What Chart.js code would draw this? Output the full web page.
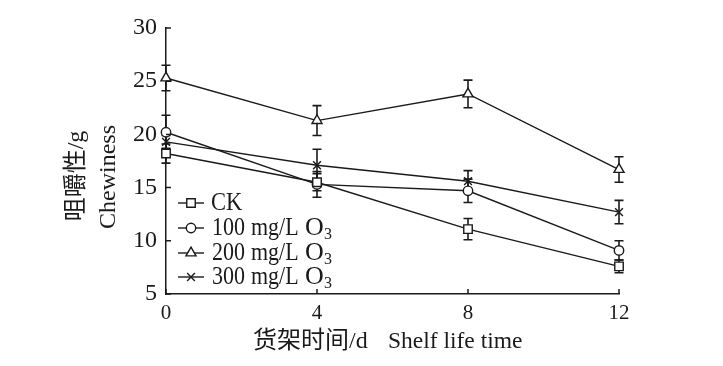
<!DOCTYPE html>
<html>
<head>
<meta charset="utf-8">
<script src="https://cdn.jsdelivr.net/npm/chart.js@4/dist/chart.umd.min.js"></script>
<style>
  html, body { margin: 0; padding: 0; background: #fff; }
  #wrap { width: 723px; height: 366px; }
</style>
</head>
<body>
<div id="wrap"><canvas id="chart" width="723" height="366"></canvas></div>
<script>
// shelf life days
const days = [0, 4, 8, 12];
// chewiness (g) and error bars
const ck = [18.2, 15.5, 11.1, 7.6];
const ckErr = [0.9, 0.8, 1.0, 0.6];
const o100 = [20.2, 15.3, 14.7, 9.1];
const o100Err = [1.6, 1.2, 1.1, 0.9];
const o200 = [25.3, 21.3, 23.8, 16.7];
const o200Err = [1.2, 1.4, 1.3, 1.2];
const o300 = [19.3, 17.1, 15.6, 12.7];
const o300Err = [0.6, 1.5, 1.0, 1.1];
const seriesNames = ['CK', '100', '200', '300'];
const xTicks = [0, 4, 8, 12];
const yTicks = [5, 10, 15, 20, 25, 30];

const ink = '#1a1a1a';
const serif = '"Liberation Serif", "Noto Sans CJK SC", serif';

function mk(vals) {
  return vals.map((v, i) => ({ x: days[i], y: v }));
}

const styles = ['rect', 'circle', 'triangle', 'crossRot'];
const radii = [6, 4.7, 5.8, 5.5];
const errs = [ckErr, o100Err, o200Err, o300Err];

const datasets = [ck, o100, o200, o300].map((vals, i) => ({
  label: seriesNames[i],
  data: mk(vals),
  borderColor: ink,
  borderWidth: 1.4,
  backgroundColor: '#fff',
  pointStyle: styles[i],
  pointRadius: radii[i],
  pointBorderWidth: 1.4,
  pointBorderColor: ink,
  pointBackgroundColor: '#fff',
  tension: 0,
  clip: false
}));

const extras = {
  id: 'extras',
  beforeDatasetsDraw(chart) {
    const c = chart.ctx, xs = chart.scales.x, ys = chart.scales.y;
    c.save();
    c.strokeStyle = ink;
    c.lineWidth = 1.6;
    chart.data.datasets.forEach((ds, i) => {
      ds.data.forEach((p, j) => {
        const e = errs[i][j];
        const px = xs.getPixelForValue(p.x);
        const top = ys.getPixelForValue(p.y + e);
        const bot = ys.getPixelForValue(p.y - e);
        c.beginPath();
        c.moveTo(px, top); c.lineTo(px, bot);
        c.moveTo(px - 4.5, top); c.lineTo(px + 4.5, top);
        c.moveTo(px - 4.5, bot); c.lineTo(px + 4.5, bot);
        c.stroke();
      });
    });
    c.restore();
  },
  afterDraw(chart) {
    const c = chart.ctx, xs = chart.scales.x, ys = chart.scales.y;
    const a = chart.chartArea;
    c.save();
    c.strokeStyle = ink;
    c.lineWidth = 1.5;
    // inward ticks
    c.beginPath();
    xTicks.forEach(v => {
      const px = xs.getPixelForValue(v);
      c.moveTo(px, a.bottom); c.lineTo(px, a.bottom - 5);
    });
    yTicks.forEach(v => {
      const py = ys.getPixelForValue(v);
      c.moveTo(a.left, py); c.lineTo(a.left + 5, py);
    });
    c.stroke();

    // legend
    const rows = [203, 228, 253, 277];
    rows.forEach((ry, i) => {
      c.strokeStyle = ink;
      c.lineWidth = 1.4;
      c.beginPath();
      c.moveTo(178, ry); c.lineTo(204, ry);
      c.stroke();
      c.fillStyle = '#fff';
      Chart.helpers.drawPoint(c, {
        pointStyle: styles[i], radius: radii[i], borderWidth: 1.4
      }, 191, ry);
    });
    c.fillStyle = ink;
    c.textBaseline = 'middle';
    c.textAlign = 'left';
    function sText(t, x, y, size, sx) {
      c.save();
      c.translate(x, y);
      c.scale(sx, 1);
      c.font = size + 'px ' + serif;
      c.fillText(t, 0, 0);
      c.restore();
    }
    rows.forEach((ry, i) => {
      if (i === 0) {
        sText('CK', 211, ry, 25, 0.9);
      } else {
        sText(seriesNames[i], 212, ry, 25, 0.88);
        sText('mg/L', 251, ry, 25, 0.88);
        sText('O', 305, ry, 26, 1);
        sText('3', 324, ry + 7, 16, 1);
      }
    });

    // axis titles
    c.textAlign = 'center';
    c.font = '24px ' + serif;
    c.save();
    c.translate(77, 176);
    c.rotate(-Math.PI / 2);
    c.fillText('咀嚼性/g', 0, 0);
    c.restore();
    c.font = '24px ' + serif;
    c.save();
    c.translate(109, 177);
    c.rotate(-Math.PI / 2);
    c.fillText('Chewiness', 0, 0);
    c.restore();

    c.textAlign = 'left';
    c.font = '24px ' + serif;
    c.fillText('货架时间/d', 253, 342);
    c.font = '23.5px ' + serif;
    c.fillText('Shelf life time', 388, 342);
    c.restore();
  }
};

new Chart(document.getElementById('chart'), {
  type: 'line',
  data: { datasets: datasets },
  options: {
    responsive: false,
    animation: false,
    devicePixelRatio: 1,
    layout: { padding: { left: 0, top: 28, right: 104, bottom: 0 } },
    plugins: { legend: { display: false }, tooltip: { enabled: false } },
    scales: {
      x: {
        type: 'linear', min: 0, max: 12,
        afterFit(s) { s.height = 72; },
        afterBuildTicks(s) { s.ticks = xTicks.map(v => ({ value: v })); },
        grid: { display: false, drawTicks: false },
        border: { display: true, color: ink, width: 1.5 },
        ticks: { color: ink, padding: 7, font: { family: serif, size: 21 } }
      },
      y: {
        min: 5, max: 30,
        afterFit(s) { s.width = 166; },
        afterBuildTicks(s) { s.ticks = yTicks.map(v => ({ value: v })); },
        grid: { display: false, drawTicks: false },
        border: { display: true, color: ink, width: 1.5 },
        ticks: { color: ink, padding: 9, font: { family: serif, size: 24 } }
      }
    }
  },
  plugins: [extras]
});
</script>
</body>
</html>
